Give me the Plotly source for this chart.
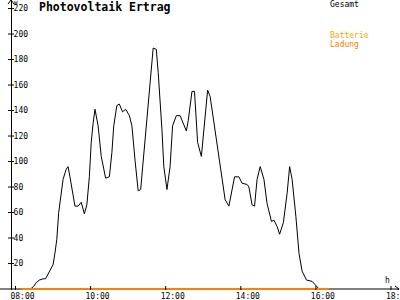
import plotly.graph_objects as go

# ---------------- data ----------------
gesamt_times = ["08:09", "08:24", "08:29", "08:33", "08:38", "08:44", "08:48", "08:55", "09:00", "09:03",
                "09:06", "09:09", "09:13", "09:16", "09:21", "09:24", "09:27", "09:31", "09:35", "09:40",
                "09:45", "09:50", "09:54", "09:58", "10:01", "10:04", "10:07", "10:12", "10:17", "10:24",
                "10:30", "10:34", "10:37", "10:42", "10:46", "10:51", "10:56", "11:02", "11:06", "11:11",
                "11:16", "11:20", "11:24", "11:30", "11:35", "11:40", "11:45", "11:48", "11:54", "11:57",
                "12:02", "12:07", "12:11", "12:17", "12:23", "12:28", "12:33", "12:36", "12:42", "12:46",
                "12:51", "12:57", "13:02", "13:07", "13:11", "13:18", "13:27", "13:35", "13:41", "13:50",
                "13:57", "14:02", "14:10", "14:13", "14:18", "14:22", "14:26", "14:31", "14:37", "14:42",
                "14:49", "14:53", "14:58", "15:02", "15:08", "15:14", "15:18", "15:22", "15:28", "15:33",
                "15:38", "15:45", "15:54", "15:59", "16:05", "16:21"]
gesamt_vals = [0, 0, 2, 5, 7, 8, 8, 14, 19, 28,
               39, 60, 76, 86, 94, 96, 88, 75, 65, 65,
               68, 59, 66, 88, 115, 130, 141, 128, 104, 87,
               88, 107, 128, 144, 145, 139, 141, 136, 128, 101,
               77, 78, 101, 136, 163, 189, 188, 170, 125, 96,
               78, 96, 128, 136, 136, 130, 124, 132, 155, 155,
               115, 104, 130, 156, 151, 128, 96, 70, 65, 88,
               88, 83, 82, 80, 66, 65, 86, 96, 86, 67,
               53, 54, 49, 43, 52, 75, 96, 86, 57, 28,
               14, 7, 6, 3, 0, 0]

batterie_times = ["08:09", "16:21"]
batterie_vals = [0, 0]

x_tick_labels = ["08:00", "10:00", "12:00", "14:00", "16:00", "18:00"]
y_tick_vals = [20, 40, 60, 80, 100, 120, 140, 160, 180, 200, 220]

FONT = "DejaVu Sans Mono"


def hrs(s):
    h, m = s.split(":")
    return int(h) + int(m) / 60.0


x_range = [7.587, 18.24]
y_range = [-0.78, 226.7]
y_axis_pos = 11 / 400

fig = go.Figure()
fig.add_trace(go.Scatter(x=[hrs(t) for t in gesamt_times], y=gesamt_vals, mode="lines",
                         line=dict(color="black", width=1), hoverinfo="skip"))
fig.add_trace(go.Scatter(x=[hrs(t) for t in batterie_times], y=batterie_vals, mode="lines",
                         line=dict(color="#FF8000", width=2), hoverinfo="skip"))

shapes = []
# x axis line
shapes.append(dict(type="line", xref="paper", yref="y", x0=0, x1=0.998, y0=0, y1=0, layer="below",
                   line=dict(color="black", width=1)))
# x ticks (crossing)
for lab in x_tick_labels:
    shapes.append(dict(type="line", xref="x", yref="y", x0=hrs(lab), x1=hrs(lab),
                       ysizemode="pixel", yanchor=0, y0=-3, y1=3,
                       line=dict(color="black", width=1)))
# y ticks (crossing)
for v in y_tick_vals:
    shapes.append(dict(type="line", xref="paper", yref="y", xsizemode="pixel", xanchor=y_axis_pos,
                       x0=-3, x1=3, y0=v, y1=v, line=dict(color="black", width=1)))
# arrows
shapes.append(dict(type="path", xref="paper", yref="paper", xsizemode="pixel", ysizemode="pixel",
                   xanchor=y_axis_pos, yanchor=1, path="M-3,-4 L0,0 L3,-4",
                   line=dict(color="black", width=1)))
shapes.append(dict(type="path", xref="paper", yref="y", xsizemode="pixel", ysizemode="pixel",
                   xanchor=1, yanchor=0, path="M-5,3 L-1,0 L-5,-3",
                   line=dict(color="black", width=1)))

annotations = [
    dict(text="Gesamt", x=329 / 400, y=1 - 4.5 / 290, xref="paper", yref="paper",
         xanchor="left", yanchor="middle", showarrow=False, borderpad=0,
         font=dict(family=FONT, size=8, color="black")),
    dict(text="Batterie", x=329 / 400, y=1 - 35 / 290, xref="paper", yref="paper",
         xanchor="left", yanchor="middle", showarrow=False, borderpad=0,
         font=dict(family=FONT, size=8, color="#FFA500")),
    dict(text="Ladung", x=329 / 400, y=1 - 44.5 / 290, xref="paper", yref="paper",
         xanchor="left", yanchor="middle", showarrow=False, borderpad=0,
         font=dict(family=FONT, size=8, color="#FF8000")),
    dict(text="h", x=387 / 400, y=1 - 280.5 / 290, xref="paper", yref="paper",
         xanchor="center", yanchor="middle", showarrow=False, borderpad=0,
         font=dict(family=FONT, size=8, color="black")),
    dict(text="W", x=16 / 400, y=1 - 2.5 / 290, xref="paper", yref="paper",
         xanchor="center", yanchor="middle", showarrow=False, borderpad=0,
         font=dict(family=FONT, size=6, color="black")),
]

fig.update_layout(
    width=400, height=300,
    margin=dict(l=0, r=0, t=0, b=10, pad=0),
    paper_bgcolor="white", plot_bgcolor="white",
    showlegend=False,
    title=dict(text="Photovoltaik Ertrag", x=39 / 400, xref="paper", xanchor="left",
               y=1 - 7 / 300, yref="container", yanchor="middle", pad=dict(t=0, b=0, l=0, r=0),
               font=dict(family=FONT, size=11.5, color="black", weight="bold")),
    xaxis=dict(range=x_range, showgrid=False, zeroline=False, showline=False, ticks="",
               tickvals=[hrs(l) for l in x_tick_labels], ticktext=x_tick_labels,
               ticklabelshift=7, ticklabeloverflow="allow",
               tickfont=dict(family=FONT, size=8, color="black"),
               automargin=False, fixedrange=True),
    yaxis=dict(range=y_range, showgrid=False, zeroline=False, showline=True, linecolor="black",
               linewidth=1, anchor="free", position=y_axis_pos, side="right", ticks="",
               ticklabelposition="outside", tickvals=y_tick_vals,
               tickfont=dict(family=FONT, size=8, color="black"),
               automargin=False, fixedrange=True),
    shapes=shapes, annotations=annotations,
)

fig.write_html("out.html")
